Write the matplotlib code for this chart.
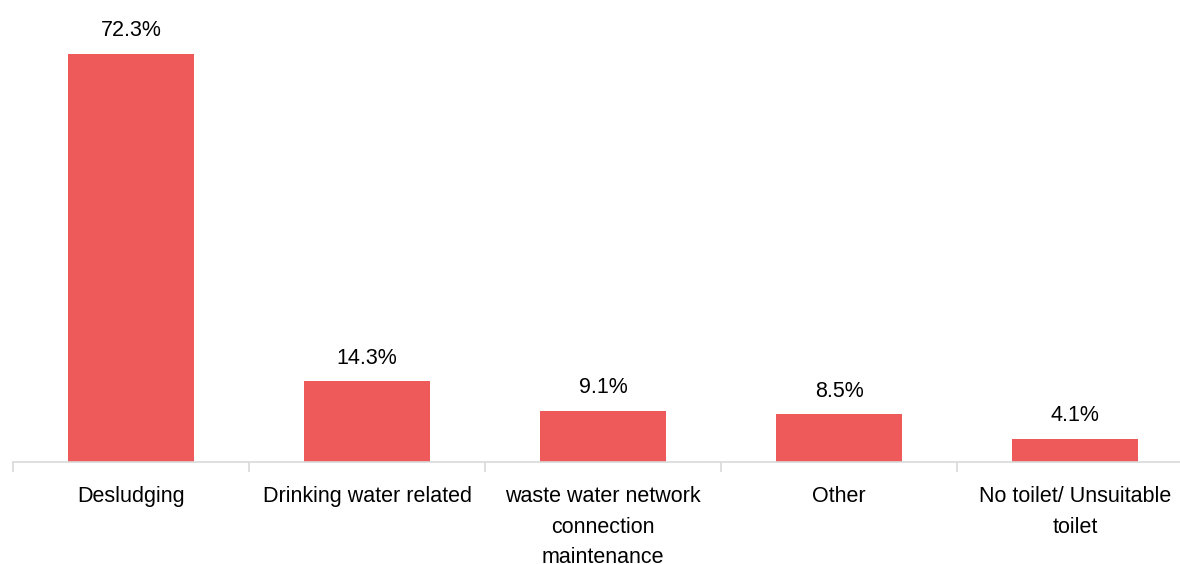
import matplotlib
matplotlib.use("Agg")
from matplotlib import pyplot as plt
from matplotlib.ticker import FixedLocator
import numpy as np

plt.rcParams['font.family'] = ['Liberation Sans', 'DejaVu Sans']

categories = ["Desludging", "Drinking water related",
              "waste water network\nconnection\nmaintenance",
              "Other", "No toilet/ Unsuitable\ntoilet"]
shares = [72.3, 14.3, 9.1, 8.5, 4.1]
bar_color = "#EE5959"
axis_color = "#D9D9D9"

fig = plt.figure(figsize=(11.8, 5.64), dpi=100)
ax = fig.add_axes([13 / 1180, 102 / 564, 1180 / 1180, 452 / 564])

x = np.arange(len(categories))
bars = ax.bar(x, shares, width=0.535, color=bar_color, zorder=2)
for b, v in zip(bars, shares):
    ax.text(b.get_x() + b.get_width() / 2, v + 2.2, f"{v}%",
            ha="center", va="bottom", fontsize=15.5, color="black")

ax.set_xlim(-0.5, len(categories) - 0.5)
ax.set_ylim(0, 80)
ax.set_xticks(x)
ax.set_xticklabels(categories, fontsize=15.5, linespacing=1.62)
ax.tick_params(axis="x", which="major", length=0, pad=17)
ax.xaxis.set_minor_locator(FixedLocator(np.arange(len(categories) + 1) - 0.5))
ax.tick_params(axis="x", which="minor", length=7, color=axis_color, width=1.2)
ax.set_yticks([])
for s in ["top", "right", "left"]:
    ax.spines[s].set_visible(False)
ax.spines["bottom"].set_color(axis_color)
ax.spines["bottom"].set_linewidth(1.2)

fig.savefig("out.png", dpi=100)
